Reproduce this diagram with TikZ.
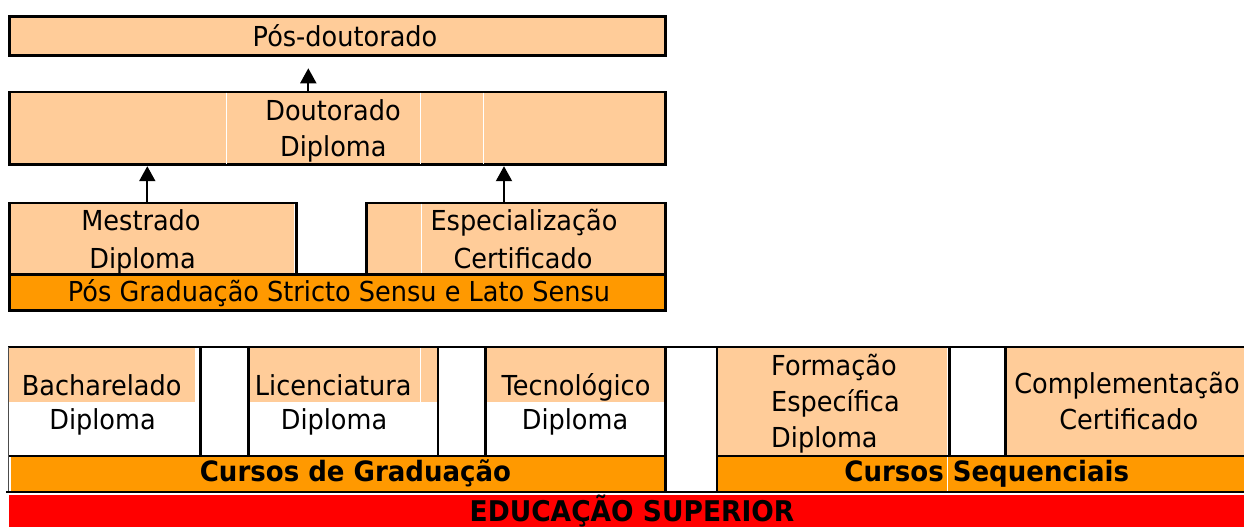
\documentclass[tikz,border=0pt]{standalone}
\usepackage{fontspec}
\setmainfont{DejaVu Sans}[FakeStretch=0.93]
\usetikzlibrary{arrows.meta}
\definecolor{peach}{HTML}{FFCC99}
\definecolor{dorange}{HTML}{FF9900}
\definecolor{redbar}{HTML}{FF0000}
\begin{document}
\begin{tikzpicture}[x=1pt,y=-1pt,
  box/.style={draw=black, line width=2.7pt, fill=peach, inner sep=0pt, minimum width=#1},
  bar/.style={draw=black, line width=2.7pt, fill=dorange, inner sep=0pt},
  txt/.style={inner sep=0pt, anchor=base, font=\fontsize{27.5}{30}\selectfont},
  btxt/.style={inner sep=0pt, anchor=base, font=\fontsize{28}{30}\selectfont\bfseries},
  arr/.style={line width=2pt, -{Triangle[width=16pt,length=15pt]}},
  grid/.style={line width=2.3pt, black},
  wline/.style={white, line width=1pt}
]
\useasboundingbox (0,0) rectangle (1244,527);
\fill[white] (0,0) rectangle (1244,527);

% ---------- top part ----------
\node[box=656pt, minimum height=39pt] (posdoc) at (337.35,35.85) {};
\node[box=656pt, minimum height=72.3pt] (dout) at (337.35,128.2) {};
\draw[wline] (226.7,92.5) -- (226.7,164);
\draw[wline] (420.7,92.5) -- (420.7,164);
\draw[wline] (483.3,92.5) -- (483.3,164);

\node[box=287pt, minimum height=71.6pt] (mest) at (152.85,238.85) {};
\node[box=299pt, minimum height=71.6pt] (espec) at (515.85,238.85) {};
\draw[wline] (294.3,203.5) -- (294.3,273);
\draw[wline] (421,203.5) -- (421,273);
\node[bar, minimum width=656pt, minimum height=35.7pt] (posgrad) at (337.35,292.5) {};

\coordinate (c1) at (308.3,0);
\coordinate (c2) at (147.3,0);
\coordinate (c3) at (504,0);
\draw[arr, shorten >=11.6pt] (dout.north -| c1) -- (posdoc.south -| c1);
\draw[arr, shorten >=0.5pt] (mest.north -| c2) -- (dout.south -| c2);
\draw[arr, shorten >=0.5pt] (espec.north -| c3) -- (dout.south -| c3);

\node[txt] (tposdoc) at (345,46.7) {Pós-doutorado};
\node[txt] (tdout1) at (333,120.7) {Doutorado};
\node[txt] (tdout2) at (333.3,156.7) {Diploma};
\node[txt] (tmest1) at (141,230) {Mestrado};
\node[txt] (tmest2) at (142.6,268.3) {Diploma};
\node[txt] (tesp1) at (524,230) {Especialização};
\node[txt] (tesp2) at (523,268.3) {Certificado};
\node[txt] (tposgrad) at (339,301.7) {Pós Graduação Stricto Sensu e Lato Sensu};

% ---------- bottom part ----------
\fill[peach] (8.7,348) rectangle (195,401.7);
\fill[peach] (249.7,348) rectangle (436.7,401.7);
\draw[wline] (420,348) -- (420,401.7);
\fill[peach] (486.7,348) rectangle (664.3,401.7);
\fill[peach] (718.3,348) rectangle (946.7,455);
\fill[peach] (1006.7,348) rectangle (1244,455);
\fill[dorange] (11,457.3) rectangle (664.3,490.7);
\fill[dorange] (718.3,457.3) rectangle (1244,490.7);
\draw[wline] (947.3,457.3) -- (947.3,490.7);
\fill[redbar] (9,495.3) rectangle (1244,527);

\draw[grid] (8,346.7) -- (1244,346.7);
\draw[grid] (8,456) -- (665.5,456);
\draw[grid] (717,456) -- (1244,456);
\draw[grid] (6,491.7) -- (1244,491.7);
\foreach \xx in {200.5,248.5,437.8,485.5,949.5,1005.5}
  \draw[grid] (\xx,346.7) -- (\xx,456);
\foreach \xx in {665.5,717}
  \draw[grid] (\xx,346.7) -- (\xx,491.7);
\draw[line width=1pt, black!70] (8.3,347) -- (8.3,491);

\node[txt] (tbach1) at (101.7,395) {Bacharelado};
\node[txt] (tbach2) at (102.5,429) {Diploma};
\node[txt] (tlic1) at (333.3,395) {Licenciatura};
\node[txt] (tlic2) at (334,429.3) {Diploma};
\node[txt] (ttec1) at (576,395) {Tecnológico};
\node[txt] (ttec2) at (575,429) {Diploma};
\node[txt, anchor=base west] (tform1) at (771,375) {Formação};
\node[txt, anchor=base west] (tform2) at (771,411.7) {Específica};
\node[txt, anchor=base west] (tform3) at (771,447.3) {Diploma};
\node[txt] (tcomp1) at (1127,393.3) {Complementação};
\node[txt] (tcomp2) at (1128.8,429.3) {Certificado};
\node[btxt] (tgrad) at (355.5,481.7) {Cursos de Graduação};
\node[btxt] (tseq) at (986.7,481.7) {Cursos Sequenciais};
\node[btxt, font=\fontsize{28.5}{30}\selectfont\bfseries] (tedu) at (632,521.7) {EDUCAÇÃO SUPERIOR};
\end{tikzpicture}
\end{document}
